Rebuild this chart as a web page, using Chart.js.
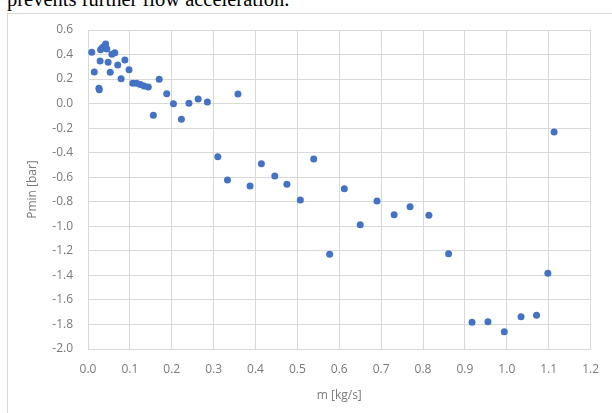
<!DOCTYPE html>
<html>
<head>
<meta charset="utf-8">
<script src="https://cdn.jsdelivr.net/npm/chart.js@4"></script>
<style>
    html, body { margin: 0; padding: 0; background: #fff; }
    #page { position: relative; width: 612px; height: 413px; overflow: hidden; }
    #caption {
        position: absolute; left: 7px; top: -13px;
        font-family: "Liberation Serif", "Times New Roman", serif;
        font-size: 20.5px; line-height: 24px; color: #000; white-space: nowrap;
    }
    #frame {
        position: absolute; left: 7px; top: 13px; width: 640px; height: 440px;
        border: 1px solid #d9d9d9; box-sizing: border-box;
    }
    #pminChart { position: absolute; left: 0; top: 0; }
</style>
</head>
<body>
<div id="page">
    <div id="caption">prevents further flow acceleration.</div>
    <div id="frame"></div>
    <canvas id="pminChart" width="612" height="413"></canvas>
</div>
<script>
// Lưu lượng khối lượng m [kg/s]
const massFlow = [
    0.009, 0.015, 0.026, 0.027, 0.029, 0.030, 0.034, 0.038, 0.042, 0.045,
    0.048, 0.053, 0.057, 0.064, 0.071, 0.079, 0.088, 0.098, 0.107, 0.116,
    0.125, 0.134, 0.144, 0.156, 0.170, 0.188, 0.204, 0.223, 0.241, 0.263,
    0.285, 0.310, 0.333, 0.358, 0.387, 0.414, 0.446, 0.475, 0.507, 0.539,
    0.577, 0.612, 0.650, 0.690, 0.731, 0.769, 0.814, 0.861, 0.917, 0.955,
    0.994, 1.034, 1.071, 1.098, 1.113
];

// Áp suất nhỏ nhất Pmin [bar]
const pMin = [
    0.418, 0.258, 0.125, 0.112, 0.347, 0.440, 0.455, 0.465, 0.485, 0.445,
    0.337, 0.255, 0.402, 0.415, 0.315, 0.203, 0.355, 0.277, 0.166, 0.166,
    0.155, 0.144, 0.135, -0.095, 0.198, 0.081, -0.001, -0.128, 0.003, 0.038,
    0.013, -0.433, -0.622, 0.078, -0.671, -0.490, -0.590, -0.658, -0.785, -0.452,
    -1.228, -0.693, -0.987, -0.794, -0.906, -0.840, -0.910, -1.223, -1.782, -1.777,
    -1.859, -1.737, -1.725, -1.383, -0.231
];

const xRange = [0, 1.2];
const yRange = [-2.0, 0.6];

const points = massFlow.map((m, i) => ({ x: m, y: pMin[i] }));

function oneDecimal(value) {
    if (Math.abs(value) < 1e-9) value = 0;
    return value.toFixed(1);
}

const tickFont = { family: "'Open Sans', 'Liberation Sans', sans-serif", size: 12 };
const titleFont = { family: tickFont.family, size: 12 };
const gridColor = '#d9d9d9';
const textColor = '#7a7a7a';

const ctx = document.getElementById('pminChart').getContext('2d');
new Chart(ctx, {
    type: 'scatter',
    data: {
        datasets: [{
            data: points,
            backgroundColor: '#4472c4',
            borderColor: '#4472c4',
            borderWidth: 0,
            pointRadius: 3.5,
            pointHoverRadius: 3.5
        }]
    },
    options: {
        responsive: false,
        animation: false,
        devicePixelRatio: 1,
        layout: { padding: { left: 0, top: 30, right: 20, bottom: 0 } },
        plugins: {
            legend: { display: false },
            tooltip: { enabled: false }
        },
        scales: {
            x: {
                type: 'linear',
                min: xRange[0],
                max: xRange[1],
                afterFit: function (axis) { axis.height = 64; },
                grid: { color: gridColor, drawTicks: false },
                border: { color: gridColor },
                ticks: {
                    stepSize: 0.1,
                    padding: 13,
                    color: textColor,
                    font: tickFont,
                    callback: oneDecimal
                },
                title: {
                    display: true,
                    text: 'm [kg/s]',
                    color: textColor,
                    font: titleFont,
                    padding: { top: 0, bottom: 10 }
                }
            },
            y: {
                type: 'linear',
                min: yRange[0],
                max: yRange[1],
                afterFit: function (axis) { axis.width = 88; },
                grid: { color: gridColor, drawTicks: false },
                border: { color: gridColor },
                ticks: {
                    stepSize: 0.2,
                    padding: 15,
                    color: textColor,
                    font: tickFont,
                    callback: oneDecimal
                },
                title: {
                    display: true,
                    text: 'Pmin [bar]',
                    color: textColor,
                    font: titleFont,
                    padding: { top: 25, bottom: 0 }
                }
            }
        }
    }
});
</script>
</body>
</html>
